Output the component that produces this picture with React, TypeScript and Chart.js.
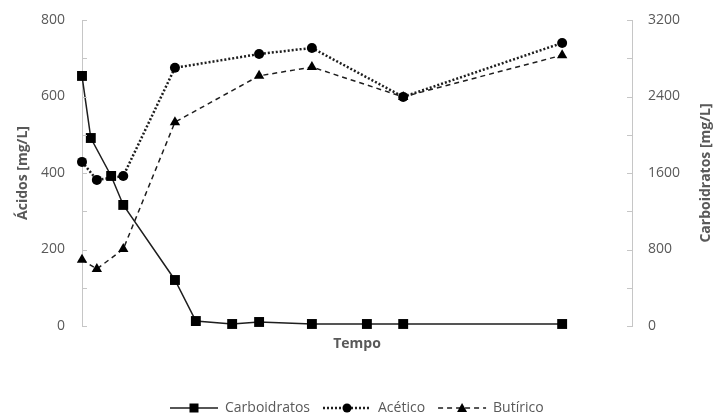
import React, { useEffect, useRef } from "react";
import { Chart, registerables } from "chart.js";

Chart.register(...registerables);

// Data
const carbTime = [0, 1.6, 5.3, 7.5, 16.9, 20.7, 27.3, 32.2, 41.8, 51.8, 58.4, 87.3];
const carbValues = [2615, 1966, 1569, 1266, 481, 52, 21, 42, 21, 21, 21, 21];
const acidTime = [0, 2.7, 7.5, 16.9, 32.2, 41.8, 58.4, 87.3];
const aceticoValues = [429, 382, 392, 675, 711, 727, 599, 740];
const butiricoValues = [173, 149, 201, 533, 654, 677, 599, 708];

const leftTicks = [0, 100, 200, 300, 400, 500, 600, 700, 800];
const rightTicks = [0, 400, 800, 1200, 1600, 2000, 2400, 2800, 3200];

const seriesNames = ["Carboidratos", "Acético", "Butírico"];
const titleLeft = "Ácidos [mg/L]";
const titleRight = "Carboidratos [mg/L]";
const titleX = "Tempo";

const FONT = "'Open Sans', 'Liberation Sans', sans-serif";
const TEXT = "#595959";
const AXIS = "#c6c6c6";
const LINE = "#1e1e1e";

const toXY = (xs: number[], ys: number[]) => xs.map((x, i) => ({ x, y: ys[i] }));

const decorPlugin = {
  id: "decor",
  afterDraw(chart: any) {
    const { ctx, chartArea, scales } = chart;
    const yl = scales.y;
    const yr = scales.y1;
    ctx.save();
    // inner tick marks
    ctx.strokeStyle = AXIS;
    ctx.lineWidth = 1;
    leftTicks.forEach((v) => {
      const y = Math.round(yl.getPixelForValue(v)) + 0.5;
      ctx.beginPath();
      ctx.moveTo(chartArea.left, y);
      ctx.lineTo(chartArea.left + 5, y);
      ctx.stroke();
    });
    rightTicks.forEach((v) => {
      const y = Math.round(yr.getPixelForValue(v)) + 0.5;
      ctx.beginPath();
      ctx.moveTo(chartArea.right, y);
      ctx.lineTo(chartArea.right - 5, y);
      ctx.stroke();
    });

    // axis titles
    ctx.fillStyle = TEXT;
    ctx.font = `bold 14px ${FONT}`;
    ctx.textAlign = "center";
    ctx.textBaseline = "middle";
    const midY = (chartArea.top + chartArea.bottom) / 2;
    ctx.save();
    ctx.translate(23, midY);
    ctx.rotate(-Math.PI / 2);
    ctx.fillText(titleLeft, 0, 0);
    ctx.restore();
    ctx.save();
    ctx.translate(706, midY);
    ctx.rotate(-Math.PI / 2);
    ctx.fillText(titleRight, 0, 0);
    ctx.restore();
    ctx.fillText(titleX, (chartArea.left + chartArea.right) / 2, chartArea.bottom + 18);

    // legend
    const ly = 408;
    ctx.font = `14px ${FONT}`;
    ctx.textAlign = "left";
    let x = 170;
    const symW = 48;
    chart.data.datasets.forEach((ds: any) => {
      ctx.save();
      ctx.strokeStyle = ds.borderColor;
      ctx.lineWidth = ds.borderWidth;
      ctx.setLineDash(ds.borderDash || []);
      ctx.beginPath();
      ctx.moveTo(x, ly);
      ctx.lineTo(x + symW, ly);
      ctx.stroke();
      ctx.restore();
      const cx = x + symW / 2;
      ctx.fillStyle = "#000";
      ctx.beginPath();
      if (ds.pointStyle === "rect") {
        ctx.rect(cx - 4.5, ly - 4.5, 9, 9);
      } else if (ds.pointStyle === "circle") {
        ctx.arc(cx, ly, 4.5, 0, Math.PI * 2);
      } else {
        ctx.moveTo(cx, ly - 5);
        ctx.lineTo(cx + 5, ly + 4);
        ctx.lineTo(cx - 5, ly + 4);
        ctx.closePath();
      }
      ctx.fill();
      ctx.fillStyle = TEXT;
      const tx = x + symW + 7;
      ctx.fillText(ds.label, tx, ly);
      x = tx + ctx.measureText(ds.label).width + 13;
    });
    ctx.restore();
  },
};

const fitY = (w: number) => (s: any) => {
  s.width = w;
  s.paddingTop = 0;
  s.paddingBottom = 0;
};

export default function App() {
  const ref = useRef<HTMLCanvasElement | null>(null);
  useEffect(() => {
    if (!ref.current) return;
    const chart = new Chart(ref.current, {
      type: "line",
      data: {
        datasets: [
          {
            label: seriesNames[0],
            data: toXY(carbTime, carbValues),
            yAxisID: "y1",
            borderColor: LINE,
            borderWidth: 1.5,
            pointStyle: "rect",
            pointRadius: 7,
            pointBackgroundColor: "#000",
            pointBorderColor: "#000",
            pointBorderWidth: 0,
            tension: 0,
            clip: false,
          },
          {
            label: seriesNames[1],
            data: toXY(acidTime, aceticoValues),
            yAxisID: "y",
            borderColor: LINE,
            borderWidth: 2.5,
            borderDash: [2, 2],
            pointStyle: "circle",
            pointRadius: 5,
            pointBackgroundColor: "#000",
            pointBorderColor: "#000",
            pointBorderWidth: 0,
            tension: 0,
            clip: false,
          },
          {
            label: seriesNames[2],
            data: toXY(acidTime, butiricoValues),
            yAxisID: "y",
            borderColor: LINE,
            borderWidth: 1.5,
            borderDash: [5, 4],
            pointStyle: "triangle",
            pointRadius: 6,
            pointBackgroundColor: "#000",
            pointBorderColor: "#000",
            pointBorderWidth: 0,
            tension: 0,
            clip: false,
          },
        ],
      },
      options: {
        responsive: false,
        animation: false,
        layout: { padding: { top: 20, left: 0, right: 0, bottom: 0 } },
        plugins: { legend: { display: false }, tooltip: { enabled: false } },
        scales: {
          x: {
            type: "linear",
            min: 0,
            max: 100,
            ticks: { display: false },
            grid: { display: false, drawTicks: false },
            border: { display: false },
            afterFit: (s: any) => {
              s.height = 91;
              s.paddingLeft = 0;
              s.paddingRight = 0;
            },
          },
          y: {
            type: "linear",
            position: "left",
            min: 0,
            max: 800,
            ticks: {
              stepSize: 100,
              autoSkip: false,
              padding: 17,
              color: TEXT,
              font: { family: FONT, size: 14 },
              callback: (v: any) => (Number(v) % 200 === 0 ? String(v) : ""),
            },
            grid: { display: false, drawTicks: false },
            border: { display: true, color: AXIS, width: 1 },
            afterFit: fitY(82),
          },
          y1: {
            type: "linear",
            position: "right",
            min: 0,
            max: 3200,
            ticks: {
              stepSize: 400,
              autoSkip: false,
              padding: 16,
              color: TEXT,
              font: { family: FONT, size: 14 },
              callback: (v: any) => (Number(v) % 800 === 0 ? String(v) : ""),
            },
            grid: { display: false, drawTicks: false },
            border: { display: true, color: AXIS, width: 1 },
            afterFit: fitY(94),
          },
        },
      } as any,
      plugins: [decorPlugin],
    });
    return () => chart.destroy();
  }, []);
  return (
    <div style={{ position: "absolute", left: 0, top: 0, width: 726, height: 417, background: "#fff" }}>
      <canvas ref={ref} width={726} height={417} style={{ display: "block" }} />
    </div>
  );
}
